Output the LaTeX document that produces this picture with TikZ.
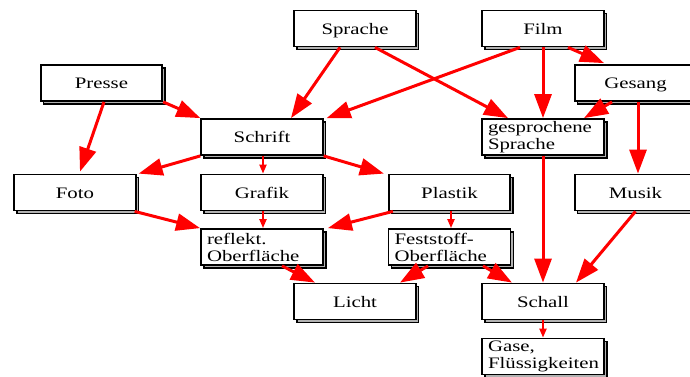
\documentclass[tikz,border=0pt]{standalone}
\usepackage{fontspec}
\setmainfont{Liberation Serif}[FakeStretch=1.3]
\usetikzlibrary{arrows.meta,shadows}
\begin{document}
\begin{tikzpicture}[x=1pt,y=-1pt,
  box/.style={draw=black, line width=1.8pt, fill=white, minimum width=121.5pt, minimum height=36pt,
    inner sep=0pt, font=\fontsize{16}{17}\selectfont,
    general shadow={fill=gray!60, draw=black, line width=1.4pt, shadow xshift=2.8pt, shadow yshift=-2.8pt}},
  one/.style={box, text height=11pt, text depth=0pt},
  two/.style={box, align=left, text width=110pt, inner xsep=6pt},
  arr/.style={draw=red, line width=3pt, -{Triangle[length=24pt,width=17pt]}},
  sarr/.style={draw=red, line width=2pt, -{Triangle[length=9pt,width=7pt]}}]
\fill[white] (0,0) rectangle (690,376);
\useasboundingbox (0,0) rectangle (690,376);
\clip (0,0) rectangle (690,376);
% boxes
\node[one] (sprache) at (355,28.5) {Sprache};
\node[one] (film) at (543,28.5) {Film};
\node[one] (presse) at (101.5,83) {Presse};
\node[one] (gesang) at (635.5,83) {Gesang};
\node[one] (schrift) at (262,137) {Schrift};
\node[two] (gesp) at (543,137) {gesprochene\\Sprache};
\node[one] (foto) at (75,192.5) {Foto};
\node[one] (grafik) at (262,192.5) {Grafik};
\node[one] (plastik) at (449.5,192.5) {Plastik};
\node[one] (musik) at (635.5,192.5) {Musik};
\node[two] (reflekt) at (262,247) {reflekt.\\Oberfläche};
\node[two] (fest) at (449.5,247) {Feststoff-\\Oberfläche};
\node[one] (licht) at (355,301.5) {Licht};
\node[one] (schall) at (543,301.5) {Schall};
\node[two] (gase) at (543,356.5) {Gase,\\Flüssigkeiten};
% arrows
\draw[arr] ([xshift=2.5pt]presse.south) -- ([xshift=5pt,yshift=2pt]foto.north);
\draw[arr] (presse.south east) -- (schrift.north west);
\draw[arr] ([xshift=-15pt]sprache.south) -- ([xshift=29pt]schrift.north);
\draw[arr] ([xshift=-23pt]film.south) -- ([xshift=3pt]schrift.north east);
\draw[arr] ([xshift=20pt]sprache.south) -- ([xshift=-35pt]gesp.north);
\draw[arr] (film.south) -- (gesp.north);
\draw[arr] ([xshift=25pt]film.south) -- ([xshift=-31.5pt,yshift=1pt]gesang.north);
\draw[arr] ([xshift=-23.5pt]gesang.south) -- ([xshift=41pt]gesp.north);
\draw[arr] ([xshift=2.5pt]gesang.south) -- ([xshift=2.5pt]musik.north);
\draw[arr] (schrift.south west) -- ([xshift=2pt]foto.north east);
\draw[sarr] ([xshift=1pt]schrift.south) -- ([xshift=1pt]grafik.north);
\draw[arr] (schrift.south east) -- ([xshift=-4pt]plastik.north west);
\draw[arr] (gesp.south) -- (schall.north);
\draw[arr] (musik.south) -- ([xshift=33pt]schall.north);
\draw[arr] ([xshift=-2pt]foto.south east) -- (reflekt.north west);
\draw[sarr] ([xshift=1pt]grafik.south) -- ([xshift=1pt]reflekt.north);
\draw[arr] ([xshift=5pt]plastik.south west) -- ([xshift=4pt]reflekt.north east);
\draw[sarr] ([xshift=1.5pt]plastik.south) -- ([xshift=1.5pt]fest.north);
\draw[arr] ([xshift=20pt]reflekt.south) -- ([xshift=-40pt]licht.north);
\draw[arr] ([xshift=-21.5pt]fest.south) -- ([xshift=45pt]licht.north);
\draw[arr] ([xshift=33.5pt]fest.south) -- ([xshift=-31pt]schall.north);
\draw[sarr] (schall.south) -- (gase.north);
\end{tikzpicture}
\end{document}
